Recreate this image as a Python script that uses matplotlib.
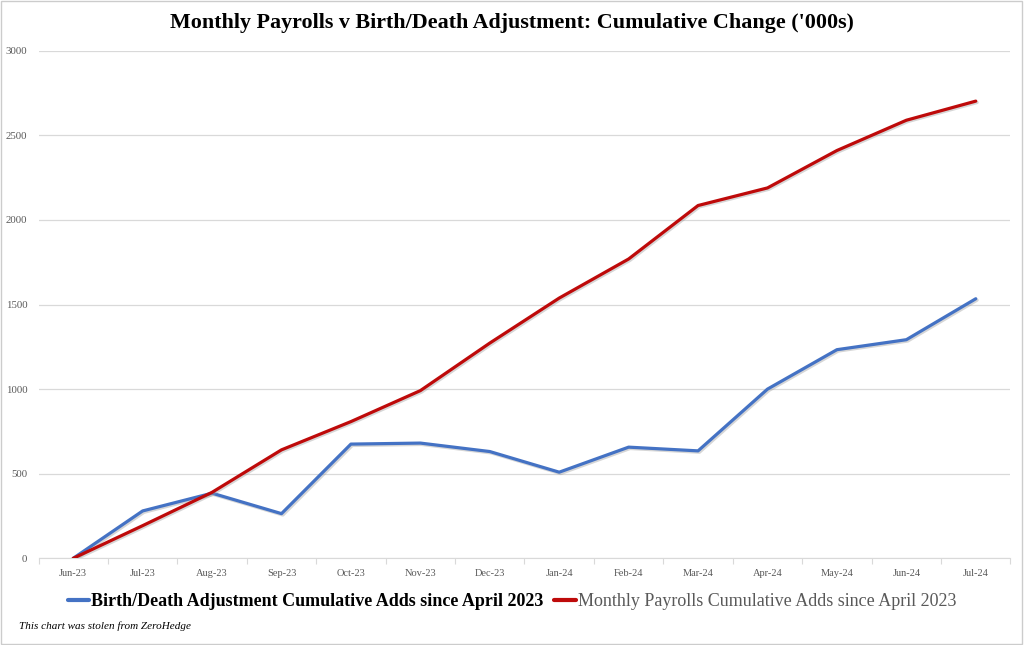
import matplotlib.pyplot as plt
import matplotlib.patheffects as pe
import numpy as np

months = ["Jun-23", "Jul-23", "Aug-23", "Sep-23", "Oct-23", "Nov-23", "Dec-23",
          "Jan-24", "Feb-24", "Mar-24", "Apr-24", "May-24", "Jun-24", "Jul-24"]
birth_death = [0, 280, 385, 264, 675, 681, 631, 509, 657, 635, 1000, 1233, 1292, 1534]
payrolls = [0, 193, 390, 641, 808, 991, 1272, 1538, 1769, 2085, 2189, 2410, 2589, 2702]

serif = ["Liberation Serif", "DejaVu Serif"]
grey = "#595959"

fig = plt.figure(figsize=(10.24, 6.45), dpi=100)
ax = fig.add_axes([0.0376, 0.1344, 0.9492, 0.787])

x = np.arange(len(months))
shadow = [pe.SimpleLineShadow(offset=(1, -1), shadow_color="#999999", alpha=0.4), pe.Normal()]
l1, = ax.plot(x, birth_death, color="#4472C4", lw=2.3, solid_capstyle="round",
              path_effects=shadow, zorder=3)
l2, = ax.plot(x, payrolls, color="#BE0A0A", lw=2.3, solid_capstyle="round",
              path_effects=shadow, zorder=4)

ax.set_xlim(-0.5, len(months) - 0.5)
ax.set_ylim(0, 3000)
ax.set_yticks(np.arange(0, 3001, 500))
ax.yaxis.grid(True, color="#d9d9d9", lw=0.9)
ax.set_axisbelow(True)

# ticks at category boundaries, labels at centres
ax.set_xticks(np.arange(-0.5, len(months), 1))
ax.set_xticklabels([])
ax.set_xticks(x, minor=True)
ax.set_xticklabels(months, minor=True, fontsize=7.5, color=grey, family=serif)
ax.tick_params(axis="x", which="major", length=4, color="#d9d9d9", direction="out")
ax.tick_params(axis="x", which="minor", length=0, pad=8)
ax.tick_params(axis="y", length=0, pad=8, labelsize=7.8, labelcolor=grey)
for lab in ax.get_yticklabels():
    lab.set_family(serif)

for s in ["top", "right", "left"]:
    ax.spines[s].set_visible(False)
ax.spines["bottom"].set_color("#d9d9d9")

fig.text(0.5, 0.964, "Monthly Payrolls v Birth/Death Adjustment: Cumulative Change ('000s)",
         ha="center", va="center", fontsize=15.8, fontweight="bold", family=serif)

leg = fig.legend([l1, l2],
                 ["Birth/Death Adjustment Cumulative Adds since April 2023",
                  "Monthly Payrolls Cumulative Adds since April 2023"],
                 loc="center", bbox_to_anchor=(0.5, 0.067), ncol=2, frameon=False,
                 prop={"family": serif, "size": 13}, handlelength=1.2,
                 handletextpad=0.1, columnspacing=0.6)
for h in leg.get_lines():
    h.set_path_effects([])
    h.set_linewidth(3)
leg.get_texts()[0].set_color("black")
leg.get_texts()[0].set_fontweight("bold")
leg.get_texts()[1].set_color(grey)

fig.text(0.019, 0.029, "This chart was stolen from ZeroHedge", ha="left", va="center",
         fontsize=8, style="italic", family=serif)

fig.patches.append(plt.Rectangle((0.001, 0.002), 0.997, 0.996, transform=fig.transFigure,
                                 fill=False, edgecolor="#cccccc", lw=1))

fig.savefig("out.png", dpi=100)
